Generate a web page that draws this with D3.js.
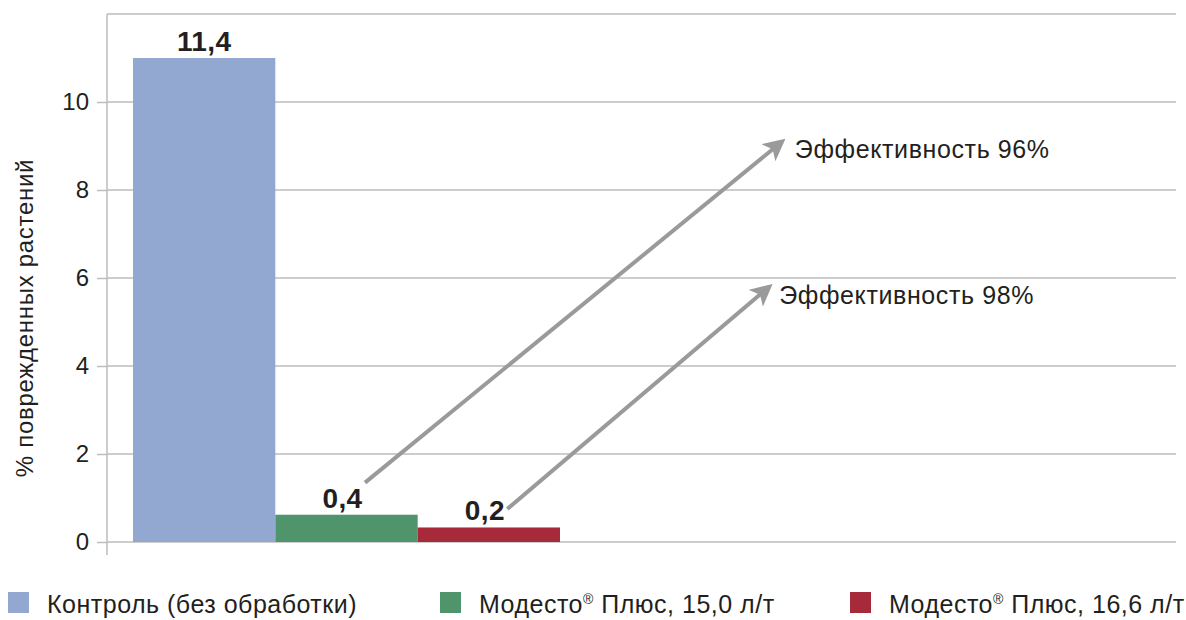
<!DOCTYPE html>
<html lang="ru">
<head>
<meta charset="UTF-8">
<title>Повреждённые растения</title>
<style>
  body { margin: 0; background: #fff; }
  svg { display: block; font-family: "Liberation Sans", Arial, sans-serif; }
</style>
</head>
<body>
<svg id="chart"></svg>
<script src="https://d3js.org/d3.v7.min.js"></script>
<script>
// series (one category, three bars)
const seriesNames = ["Контроль (без обработки)", "Модесто® Плюс, 15,0 л/т", "Модесто® Плюс, 16,6 л/т"];
const barValues = [11.0, 0.62, 0.33];          // heights as drawn
const barLabels = ["11,4", "0,4", "0,2"];      // printed labels
const barColors = ["#93a8d1", "#4f946a", "#a62a3a"];
const yTicks = [0, 2, 4, 6, 8, 10, 12];
const yTitle = "% поврежденных растений";

// annotations: x in bar-slot units, y in data units
const arrows = [
  { x1: 1.63, y1: 1.35, x2: 4.56, y2: 9.1, text: "Эффективность 96%", tx: 4.65, ty: 8.72 },
  { x1: 2.63, y1: 0.75, x2: 4.47, y2: 5.8, text: "Эффективность 98%", tx: 4.54, ty: 5.42 }
];

const width = 1186, height = 620;
const axisX = 107, plotRight = 1176, plotTop = 14, plotBottom = 542;

const svg = d3.select("#chart").attr("width", width).attr("height", height);

const y = d3.scaleLinear().domain([0, 12]).range([plotBottom, plotTop]);
const x = d3.scaleBand().domain(seriesNames).range([133, 560]).padding(0);
const slot = d3.scaleLinear().domain([0, 3]).range([133, 560]);

// gridlines
svg.append("g").selectAll("line").data(yTicks).join("line")
  .attr("x1", axisX).attr("x2", plotRight)
  .attr("y1", d => y(d)).attr("y2", d => y(d))
  .attr("stroke", "#bdbdbd").attr("stroke-width", 1.5);

// y axis
const yAxis = svg.append("g").attr("transform", `translate(${axisX},0)`)
  .call(d3.axisLeft(y).tickValues(yTicks.slice(0, -1)).tickSize(10).tickPadding(8));
yAxis.select(".domain").remove();
yAxis.selectAll(".tick line").attr("stroke", "#bdbdbd").attr("stroke-width", 1.5);
yAxis.selectAll(".tick text").attr("font-size", 24).attr("fill", "#231f20")
  .attr("font-family", "Liberation Sans, Arial, sans-serif");
svg.append("line").attr("x1", axisX).attr("x2", axisX)
  .attr("y1", plotTop).attr("y2", plotBottom + 13)
  .attr("stroke", "#bdbdbd").attr("stroke-width", 1.5);

svg.append("text")
  .attr("transform", `translate(33,${(plotTop + plotBottom) / 2 + 40}) rotate(-90)`)
  .attr("text-anchor", "middle").attr("font-size", 24).attr("letter-spacing", 0.7)
  .attr("fill", "#231f20")
  .text(yTitle);

// bars
svg.append("g").selectAll("rect").data(seriesNames).join("rect")
  .attr("x", d => x(d)).attr("width", x.bandwidth())
  .attr("y", (d, i) => y(barValues[i]))
  .attr("height", (d, i) => y(0) - y(barValues[i]))
  .attr("fill", (d, i) => barColors[i]);

svg.append("g").selectAll("text").data(seriesNames).join("text")
  .attr("x", d => x(d) + x.bandwidth() / 2 - (d === seriesNames[0] ? 0 : 4))
  .attr("y", (d, i) => y(barValues[i]) - 7)
  .attr("text-anchor", "middle").attr("font-size", 28).attr("font-weight", "bold")
  .attr("letter-spacing", 0.4)
  .attr("fill", "#231f20")
  .text((d, i) => barLabels[i]);

// arrows
const defs = svg.append("defs");
defs.append("marker").attr("id", "arrowhead")
  .attr("viewBox", "0 0 10 10").attr("refX", 8).attr("refY", 5)
  .attr("markerWidth", 5.5).attr("markerHeight", 5.5).attr("orient", "auto")
  .attr("markerUnits", "strokeWidth")
  .append("path").attr("d", "M0,0 L10,5 L0,10 L2.5,5 Z").attr("fill", "#9a9a9a");

svg.append("g").selectAll("line").data(arrows).join("line")
  .attr("x1", d => slot(d.x1)).attr("y1", d => y(d.y1))
  .attr("x2", d => slot(d.x2)).attr("y2", d => y(d.y2))
  .attr("stroke", "#9a9a9a").attr("stroke-width", 4)
  .attr("marker-end", "url(#arrowhead)");

svg.append("g").selectAll("text").data(arrows).join("text")
  .attr("x", d => slot(d.tx)).attr("y", d => y(d.ty))
  .attr("font-size", 25).attr("letter-spacing", 0.6).attr("fill", "#231f20")
  .text(d => d.text);

// legend
const legendX = [8, 440, 850];
const lg = svg.append("g").selectAll("g").data(seriesNames).join("g")
  .attr("transform", (d, i) => `translate(${legendX[i]},592)`);
lg.append("rect").attr("width", 21).attr("height", 21).attr("fill", (d, i) => barColors[i]);
const lt = lg.append("text").attr("x", 39).attr("y", 21)
  .attr("font-size", 25).attr("letter-spacing", 0.5).attr("fill", "#231f20");
lt.each(function (d) {
  const t = d3.select(this);
  const parts = d.split("®");
  t.append("tspan").text(parts[0]);
  if (parts.length > 1) {
    t.append("tspan").attr("font-size", 14).attr("dy", -9).text("®");
    t.append("tspan").attr("dy", 9).text(parts[1]);
  }
});
</script>
</body>
</html>
